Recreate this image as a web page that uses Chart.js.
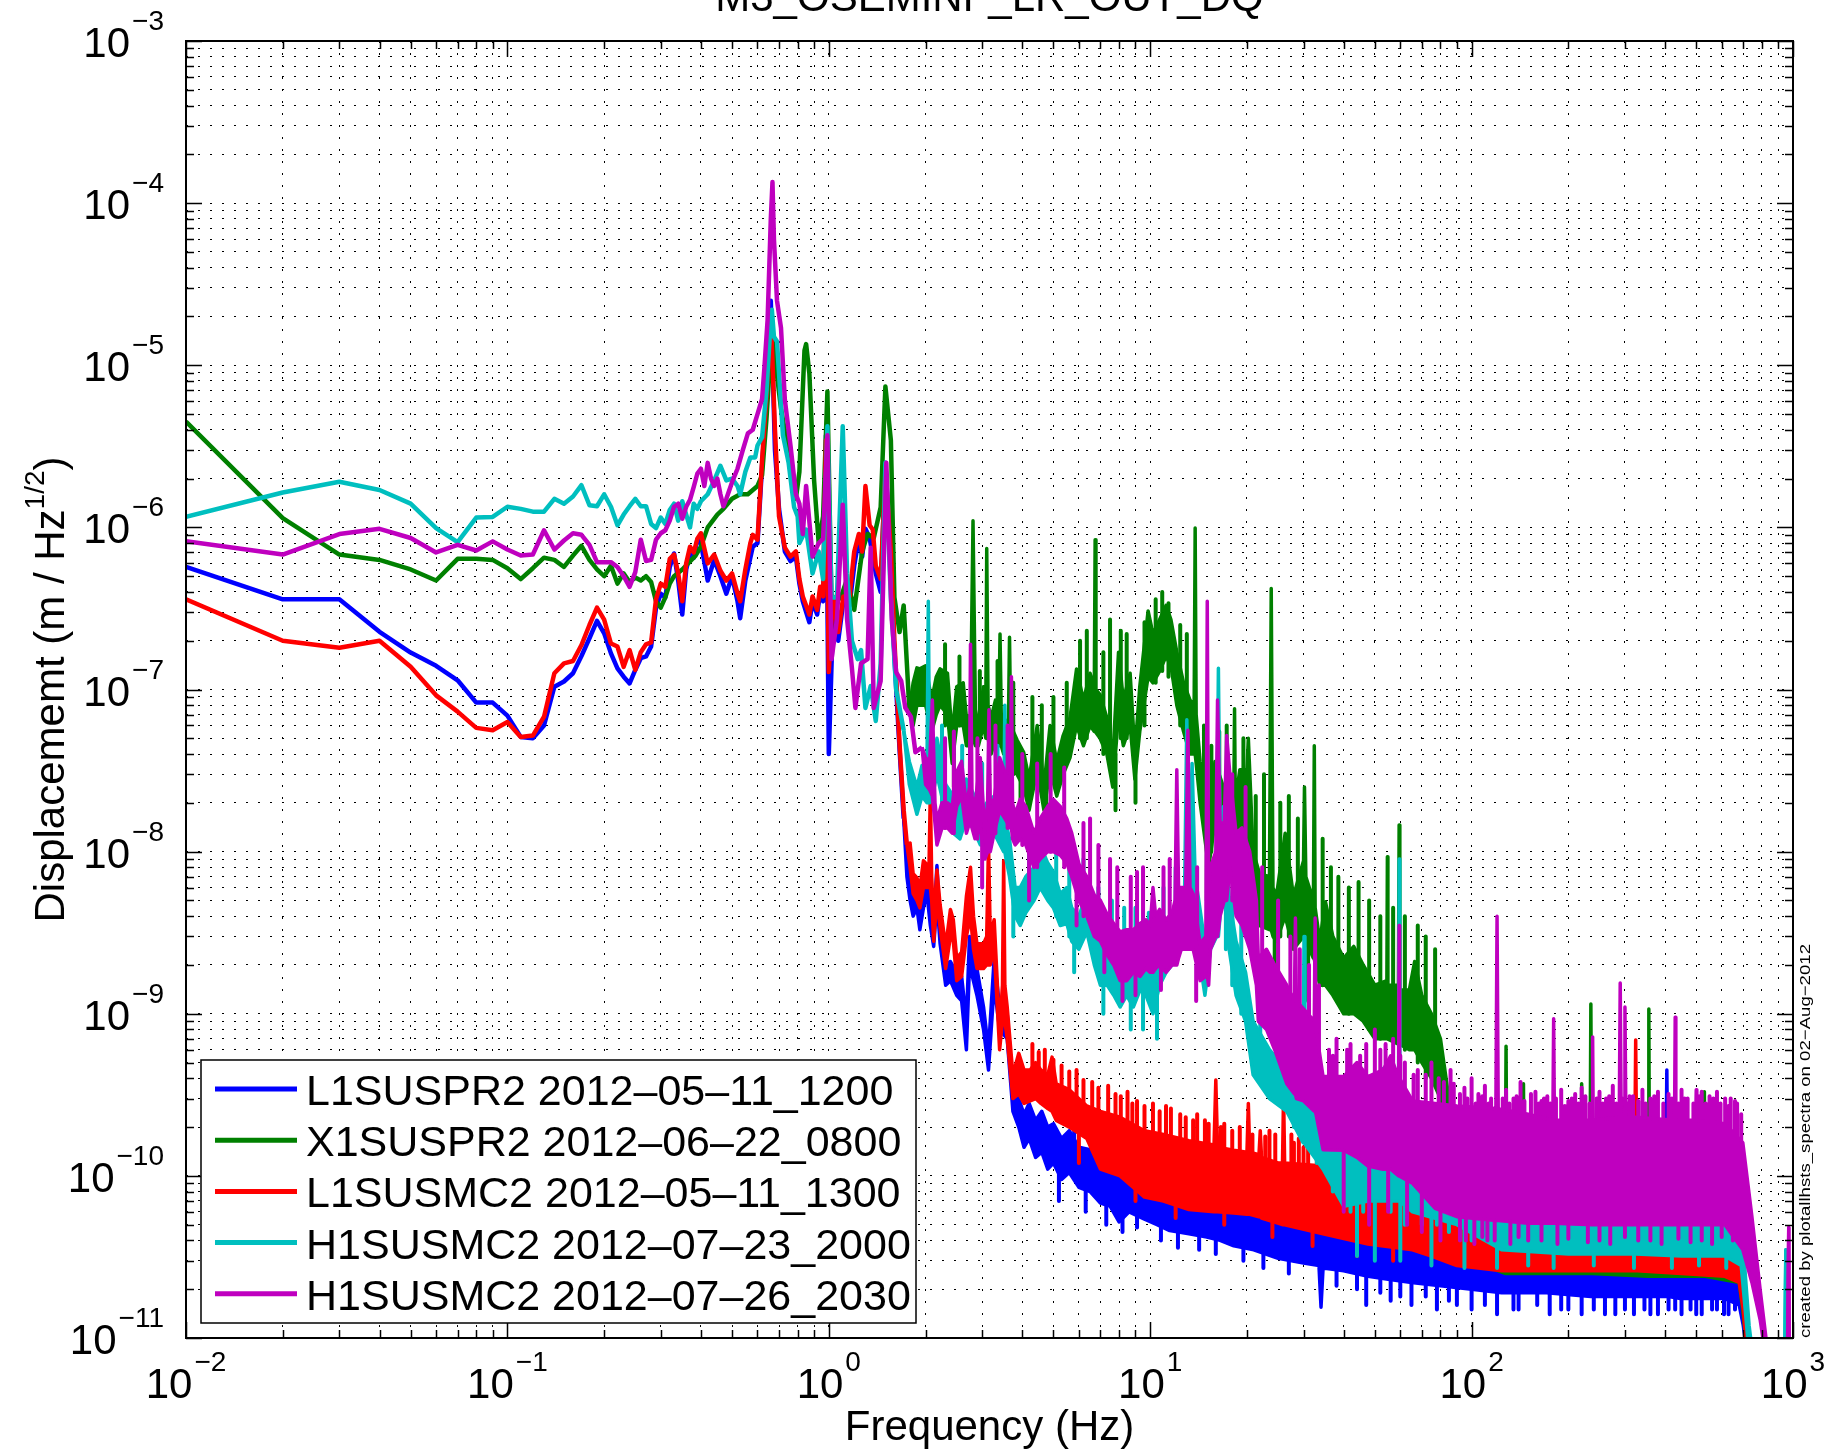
<!DOCTYPE html>
<html><head><meta charset="utf-8">
<script src="https://cdn.jsdelivr.net/npm/chart.js"></script>
<style>html,body{margin:0;padding:0;background:#fff;}canvas{display:block;}</style>
</head><body>
<canvas id="c" width="1844" height="1452" style="width:1844px;height:1452px"></canvas>
<script>
// ---------------- DATA ----------------
const chartTitle = 'M3_OSEMINF_LR_OUT_DQ';
const xAxisTitle = 'Frequency (Hz)';
const yAxisTitleMain = 'Displacememt (m / Hz';
const yAxisTitleSup = '1/2';
const footnote = 'created by plotallhsts_spectra on 02\u2212Aug\u22122012';

const xMajor = [0.01, 0.1, 1, 10, 100, 1000];
const xTickExp = ['\u22122', '\u22121', '0', '1', '2', '3'];
const yMajor = [1e-11, 1e-10, 1e-9, 1e-8, 1e-7, 1e-6, 1e-5, 1e-4, 1e-3];
const yTickExp = ['\u221211', '\u221210', '\u22129', '\u22128', '\u22127', '\u22126', '\u22125', '\u22124', '\u22123'];
const minorMult = [2, 3, 4, 5, 6, 7, 8, 9];

const seriesLabels = ['L1SUSPR2 2012\u201305\u201311_1200', 'X1SUSPR2 2012\u201306\u201322_0800', 'L1SUSMC2 2012\u201305\u201311_1300', 'H1SUSMC2 2012\u201307\u201323_2000', 'H1SUSMC2 2012\u201307\u201326_2030'];
const seriesColors = ['#0000ff', '#008000', '#ff0000', '#00bfbf', '#bf00bf'];

// ---- L1SUSPR2 : line [freq, value]; band [freq, upper, lower]; noise strokes [freq, from, to]
const blueLine = [[0.01,5.7e-7],[0.02,3.6e-7],[0.03,3.6e-7],[0.04,2.27e-7],[0.05,1.69e-7],[0.06,1.4e-7],[0.07,1.14e-7],[0.08,8.3e-8],[0.09,8.3e-8],[0.1,6.9e-8],[0.11,5.1e-8],[0.12,5.0e-8],[0.13,6.0e-8],[0.14,1.04e-7],[0.15,1.12e-7],[0.16,1.26e-7],[0.17,1.61e-7],[0.18,2.07e-7],[0.19,2.65e-7],[0.2,2.22e-7],[0.21,1.67e-7],[0.22,1.35e-7],[0.23,1.2e-7],[0.24,1.09e-7],[0.25,1.32e-7],[0.26,1.56e-7],[0.27,1.6e-7],[0.28,1.84e-7],[0.29,3.2e-7],[0.3,3.9e-7],[0.31,3.7e-7],[0.32,5.7e-7],[0.33,6.9e-7],[0.34,4.7e-7],[0.35,2.9e-7],[0.36,5.5e-7],[0.37,6.9e-7],[0.38,6.5e-7],[0.39,8.4e-7],[0.4,8.0e-7],[0.42,4.7e-7],[0.44,6.3e-7],[0.46,5.0e-7],[0.48,3.9e-7],[0.5,5.0e-7],[0.52,3.5e-7],[0.53,2.75e-7],[0.55,4.7e-7],[0.57,6.5e-7],[0.58,7.6e-7],[0.6,8.0e-7],[0.62,2.4e-6],[0.64,6e-6],[0.66,2.5e-5],[0.68,3e-6],[0.7,1.3e-6],[0.73,7.1e-7],[0.76,6.2e-7],[0.79,6.6e-7],[0.81,4.5e-7],[0.83,3.5e-7],[0.87,2.6e-7],[0.89,3.5e-7],[0.92,2.9e-7],[0.94,4e-7],[0.96,3.5e-7],[0.98,3.7e-6],[1.0,4e-8],[1.03,2.7e-7],[1.07,2e-7],[1.11,3.5e-7],[1.16,3.3e-7],[1.2,5.8e-7],[1.24,8.6e-7],[1.27,6.6e-7],[1.3,9.8e-7],[1.34,8.6e-7],[1.4,5.2e-7],[1.45,4e-7],[1.5,2.5e-6],[1.56,6.2e-7],[1.6,1.6e-7],[1.66,4.3e-8],[1.71,1.6e-8]];
const blueBand = [[1.71,1.6e-8,1.6e-8],[1.75,1.1e-8,7e-9],[1.79,7e-9,5e-9],[1.83,5.5e-9,4e-9],[1.88,6e-9,4.5e-9],[1.92,4.5e-9,3.3e-9],[1.97,6.5e-9,4.5e-9],[2.02,7e-9,5.5e-9],[2.07,5e-9,3.5e-9],[2.12,3.5e-9,2.6e-9],[2.17,8.2e-9,5e-9],[2.22,3.5e-9,2.7e-9],[2.31,2e-9,1.5e-9],[2.39,2.1e-9,1.6e-9],[2.5,1.8e-9,1.3e-9],[2.59,1.7e-9,1.2e-9],[2.68,9e-10,6e-10],[2.74,3e-9,2e-9],[2.89,1.9e-9,1.3e-9],[3.03,1.1e-9,8e-10],[3.14,6e-10,4.5e-10],[3.27,2.2e-9,1.5e-9],[3.4,1.1e-9,8e-10],[3.59,1e-9,7e-10],[3.74,3.5e-10,2.5e-10],[3.9,3.0e-10,2.0e-10],[4.05,2.4e-10,1.5e-10],[4.2,2.8e-10,1.7e-10],[4.4,2.2e-10,1.3e-10],[4.6,2.5e-10,1.4e-10],[4.8,2.0e-10,1.1e-10],[5.0,2.1e-10,1.2e-10],[5.3,1.7e-10,9.5e-11],[5.6,1.9e-10,1.05e-10],[6.0,1.5e-10,8.5e-11],[6.5,1.45e-10,8e-11],[7.0,1.25e-10,6.8e-11],[7.5,1.2e-10,6.5e-11],[8.0,1.1e-10,5.2e-11],[8.6,1.05e-10,6e-11],[9.6,9e-11,5.4e-11],[10.5,9.5e-11,5e-11],[11.5,8.5e-11,4.6e-11],[13.2,8.3e-11,4.4e-11],[15,7.8e-11,4.2e-11],[16.5,7.3e-11,4e-11],[18.2,7e-11,3.7e-11],[21,6.5e-11,3.5e-11],[25,6.0e-11,3.1e-11],[30,5.7e-11,2.9e-11],[33.5,5.4e-11,2.8e-11],[34,5.2e-11,1.55e-11],[34.5,5.3e-11,2.7e-11],[40,5.1e-11,2.6e-11],[47.6,4.8e-11,2.4e-11],[55,4.6e-11,2.3e-11],[65,4.3e-11,2.2e-11],[80,4.1e-11,2.1e-11],[100,3.8e-11,2.0e-11],[124,3.6e-11,1.9e-11],[171,3.5e-11,1.9e-11],[235,3.3e-11,1.8e-11],[324,3.2e-11,1.8e-11],[400,3.2e-11,1.8e-11],[405,4.5e-10,1.8e-11],[410,3.2e-11,1.8e-11],[446,3.1e-11,1.75e-11],[614,3.1e-11,1.75e-11],[680,2.8e-11,1.6e-11],[700,2e-11,1.2e-11],[720,1.2e-11,8e-12],[760,5e-12,4e-12]];
const blueNoise = [[5.2,7e-11,1.6e-10],[6.3,6e-11,1.4e-10],[7.3,5e-11,1.2e-10],[8.2,4.5e-11,1.1e-10],[9.1,4.8e-11,1e-10],[10.8,4e-11,9e-11],[12.2,3.6e-11,8.5e-11],[14.2,3.5e-11,8e-11],[16,3.3e-11,7.5e-11],[19.5,3e-11,7e-11],[22.5,2.7e-11,6.5e-11],[27,2.5e-11,6e-11],[38,2.1e-11,5e-11],[44,2e-11,5e-11],[52,1.9e-11,4.5e-11],[60,1.8e-11,4.5e-11],[72,1.8e-11,4.3e-11],[85,1.7e-11,4e-11],[110,1.6e-11,3.8e-11],[140,1.5e-11,3.6e-11],[160,1.6e-11,3.5e-11],[200,1.5e-11,3.4e-11],[260,1.4e-11,3.3e-11],[300,1.5e-11,3.2e-11],[360,1.4e-11,3.2e-11],[430,1.5e-11,3.1e-11],[500,1.4e-11,3.1e-11],[560,1.5e-11,3.1e-11],[630,1.4e-11,3e-11],[5.8,1e-10,2.4e-10],[6.8,9e-11,1.9e-10],[11,6e-11,1.3e-10],[17,5e-11,1.05e-10],[24,4e-11,8.5e-11],[31,3.5e-11,7.5e-11],[42,3e-11,6.5e-11],[58,3e-11,6e-11],[70,2.8e-11,5.8e-11],[95,2.5e-11,5.3e-11],[130,2.4e-11,5e-11],[170,2.4e-11,4.8e-11],[210,2.3e-11,4.6e-11],[280,2.3e-11,4.5e-11],[340,2.3e-11,4.5e-11],[460,2.2e-11,4.4e-11],[540,2.2e-11,4.3e-11],[600,2.2e-11,4.4e-11],[47,1.6e-11,3e-11],[56,1.7e-11,3e-11],[65,1.6e-11,3e-11],[78,1.5e-11,3e-11],[90,1.6e-11,3e-11],[100,1.5e-11,3e-11],[120,1.4e-11,2.8e-11],[135,1.5e-11,2.8e-11],[175,1.4e-11,2.8e-11],[190,1.5e-11,2.8e-11],[220,1.4e-11,2.8e-11],[240,1.5e-11,2.8e-11],[280,1.4e-11,2.8e-11],[320,1.4e-11,2.8e-11],[345,1.5e-11,2.8e-11],[380,1.4e-11,2.8e-11],[410,1.5e-11,2.8e-11],[450,1.4e-11,2.8e-11],[480,1.5e-11,2.8e-11],[520,1.4e-11,2.8e-11],[580,1.5e-11,2.8e-11],[610,1.4e-11,2.8e-11],[660,1.5e-11,2.8e-11],[48,3e-11,6e-11],[62,3e-11,5.5e-11],[78,2.8e-11,5.3e-11],[110,2.5e-11,5e-11],[150,2.4e-11,4.7e-11],[190,2.3e-11,4.8e-11],[250,2.3e-11,4.4e-11],[310,2.3e-11,4.6e-11],[390,2.3e-11,4.4e-11],[500,2.2e-11,4.5e-11],[570,2.2e-11,4.3e-11],[650,2.2e-11,4.2e-11]];

// ---- X1SUSPR2
const greenLine = [[0.01,4.5e-6],[0.02,1.14e-6],[0.03,6.8e-7],[0.04,6.3e-7],[0.05,5.5e-7],[0.06,4.7e-7],[0.07,6.4e-7],[0.08,6.4e-7],[0.09,6.3e-7],[0.1,5.6e-7],[0.11,4.8e-7],[0.12,5.6e-7],[0.13,6.5e-7],[0.14,6.3e-7],[0.15,5.7e-7],[0.16,6.7e-7],[0.17,7.7e-7],[0.18,6.3e-7],[0.19,5.5e-7],[0.2,5e-7],[0.21,5.8e-7],[0.22,4.5e-7],[0.23,5.2e-7],[0.24,4.6e-7],[0.25,4.9e-7],[0.26,4.7e-7],[0.27,5e-7],[0.28,4.6e-7],[0.29,3.5e-7],[0.3,3.2e-7],[0.31,3.7e-7],[0.32,4.5e-7],[0.33,5e-7],[0.35,5.5e-7],[0.385,6.7e-7],[0.4,7.6e-7],[0.42,1e-6],[0.45,1.2e-6],[0.47,1.3e-6],[0.5,1.5e-6],[0.53,1.6e-6],[0.56,1.6e-6],[0.6,1.8e-6],[0.62,2.1e-6],[0.64,4.7e-6],[0.665,1.6e-5],[0.71,5.4e-6],[0.76,2.5e-6],[0.79,1.5e-6],[0.81,2.2e-6],[0.84,1.23e-5],[0.85,1.35e-5],[0.87,8.9e-6],[0.9,1.95e-6],[0.93,8e-7],[0.96,1.17e-6],[0.99,6.9e-6],[1.02,3.3e-7],[1.09,3.7e-7],[1.14,4.8e-7],[1.2,3.1e-7],[1.27,7.1e-7],[1.32,9.1e-7],[1.38,8.6e-7],[1.45,1.33e-6],[1.5,7.4e-6],[1.56,3.45e-6],[1.6,3.7e-7],[1.66,2.26e-7],[1.71,3.3e-7],[1.78,7.7e-8]];
const greenBand = [[1.78,7.7e-8,7.7e-8],[1.83,1.1e-7,6e-8],[1.88,1.36e-7,8e-8],[1.92,1.34e-7,8e-8],[2.0,1.4e-7,8e-8],[2.09,8.6e-8,5.5e-8],[2.16,1.2e-7,7e-8],[2.22,1.34e-7,8e-8],[2.34,1.26e-7,7e-8],[2.42,5.2e-8,3.5e-8],[2.5,1.04e-7,6e-8],[2.62,1.1e-7,6e-8],[2.68,6.7e-8,4.5e-8],[2.76,7e-8,4.5e-8],[2.81,1.1e-6,5e-8],[2.86,7e-8,4.5e-8],[2.92,6.7e-8,4.5e-8],[3.03,1.04e-7,6e-8],[3.08,8e-8,5e-8],[3.1,7.4e-7,5e-8],[3.13,8e-8,5e-8],[3.2,6.7e-8,4e-8],[3.3,8.6e-8,5e-8],[3.38,7e-8,4.5e-8],[3.41,2.2e-7,4.5e-8],[3.44,7e-8,4.5e-8],[3.5,6.7e-8,4e-8],[3.62,6e-8,4e-8],[3.65,2.1e-7,4e-8],[3.68,6e-8,3.8e-8],[3.85,4.9e-8,3e-8],[4.04,4.1e-8,2.5e-8],[4.2,2.8e-8,1.8e-8],[4.45,6e-8,3.2e-8],[4.67,2.5e-8,1.8e-8],[4.88,6e-8,3.2e-8],[5.12,3.6e-8,2.2e-8],[5.36,5.2e-8,3e-8],[5.63,6.7e-8,3.8e-8],[5.9,1.34e-7,6e-8],[6.2,8.6e-8,4.5e-8],[6.5,1.26e-7,6e-8],[6.7,1e-7,5.5e-8],[6.74,8.4e-7,5.5e-8],[6.78,1e-7,5.5e-8],[6.98,9.3e-8,5e-8],[7.33,6.7e-8,4e-8],[7.65,3.8e-8,2.5e-8],[7.97,1.7e-7,7e-8],[8.25,8.6e-8,4.5e-8],[8.66,1.26e-7,6e-8],[8.96,4.1e-8,2.8e-8],[9.28,1.04e-7,5.5e-8],[9.85,3.05e-7,1.2e-7],[10.2,2.2e-7,1.1e-7],[10.7,2.7e-7,1.3e-7],[11.2,3.3e-7,1.6e-7],[11.6,2.7e-7,1.4e-7],[12.1,1.7e-7,8e-8],[12.7,1.1e-7,5.5e-8],[13.3,8.6e-8,4e-8],[13.7,8e-8,4e-8],[13.8,9.9e-7,4e-8],[13.9,7e-8,3.5e-8],[14.3,3.6e-8,2e-8],[15.2,1.37e-8,8e-9],[15.9,3.6e-8,1.5e-8],[16.9,2.5e-8,1.2e-8],[17.7,1.74e-8,9e-9],[18.2,2e-8,9e-9],[18.3,7.6e-8,9e-9],[18.4,2e-8,9e-9],[19.0,3.2e-8,1.2e-8],[20,3.2e-8,1.1e-8],[20.2,5e-8,1.1e-8],[20.9,1e-8,5e-9],[21.9,7.3e-9,3.5e-9],[23.5,7e-9,3.3e-9],[23.8,4.2e-7,3.3e-9],[24.1,6e-9,3e-9],[24.7,5.3e-9,2.8e-9],[26.3,1.3e-8,4e-9],[27.9,5.3e-9,2.5e-9],[30,8.8e-9,3e-9],[30.2,2.5e-8,3e-9],[30.5,7e-9,2.8e-9],[32.2,5e-9,2.2e-9],[32.4,4.5e-8,2.2e-9],[32.6,4.5e-9,2e-9],[33.7,2.8e-9,1.5e-9],[35.1,4.9e-9,1.5e-9],[37,3e-9,1.3e-9],[40,2.2e-9,1.0e-9],[43,2.6e-9,1.0e-9],[46,2e-9,9e-10],[50,1.5e-9,7e-10],[54.5,1.6e-9,7e-10],[54.7,9.3e-9,7e-10],[54.9,1.5e-9,7e-10],[59.2,1.5e-9,6.5e-10],[59.5,1.46e-8,6.5e-10],[59.8,1.4e-9,6.5e-10],[64,1.4e-9,6e-10],[66.5,2.1e-9,6e-10],[70,1.3e-9,5e-10],[75,1e-9,4e-10],[80,7e-10,3e-10],[85,3e-10,1e-10],[90,1.2e-10,4e-11],[100,5e-11,3e-11],[127,4e-11,2.5e-11],[128,6.3e-10,2.5e-11],[129,4e-11,2.5e-11],[144,4e-11,2.5e-11],[145,3.7e-10,2.5e-11],[146,4e-11,2.5e-11],[219,3.9e-11,2.5e-11],[220,3.7e-10,2.5e-11],[221,3.9e-11,2.5e-11],[233,3.9e-11,2.5e-11],[235,1.15e-9,2.5e-11],[237,3.9e-11,2.5e-11],[354,3.8e-11,2.4e-11],[356,1.07e-9,2.4e-11],[358,3.8e-11,2.4e-11],[527,3.8e-11,2.4e-11],[530,3.3e-10,2.4e-11],[533,3.8e-11,2.4e-11],[680,3.4e-11,2.2e-11],[700,2.3e-11,1.4e-11],[720,1.2e-11,8e-12],[760,5e-12,4e-12]];
const greenNoise = [[2.3,6e-8,1.9e-7],[2.55,6e-8,1.6e-7],[2.95,5e-8,1.3e-7],[3.35,5e-8,1.5e-7],[3.75,3e-8,1.1e-7],[4.3,3e-8,9e-8],[4.6,2.5e-8,8e-8],[5.0,3e-8,9e-8],[5.5,4e-8,1.1e-7],[6.05,5e-8,2e-7],[6.35,5e-8,2.3e-7],[7.15,4e-8,1.7e-7],[7.5,4e-8,2.7e-7],[8.1,5e-8,2.3e-7],[8.45,5e-8,2.2e-7],[9.6,6e-8,2.6e-7],[10.4,1.1e-7,3.6e-7],[10.9,1.3e-7,4e-7],[11.4,1.2e-7,3.4e-7],[12.4,6e-8,2.5e-7],[13,5e-8,2.2e-7],[14.7,1.5e-8,6e-8],[15.5,1e-8,4.5e-8],[16.4,1.2e-8,5.5e-8],[17.3,1e-8,6e-8],[19.5,8e-9,5e-8],[21.3,4e-9,2.2e-8],[22.6,4e-9,3e-8],[25.4,3e-9,2e-8],[27,3e-9,2.2e-8],[28.8,3e-9,1.6e-8],[34.4,1.5e-9,1.2e-8],[36.5,1.4e-9,8e-9],[38.5,1.2e-9,7e-9],[41.5,1e-9,6e-9],[44.5,1e-9,6.5e-9],[48,8e-10,5e-9],[52,7e-10,4e-9],[57,7e-10,4.5e-9],[62,6e-10,4e-9],[68,5e-10,3.5e-9],[72,4e-10,3e-9],[77,4e-10,2.5e-9],[2.45,2.5e-8,6e-8],[3.95,1.6e-8,4e-8],[4.75,1.4e-8,3e-8],[7.8,1.8e-8,4e-8],[9.0,2e-8,4e-8],[15.0,5e-9,1.5e-8],[20.6,2.5e-9,8e-9],[24.4,1.8e-9,5e-9],[31,1.2e-9,4e-9]];

// ---- L1SUSMC2
const redLine = [[0.01,3.6e-7],[0.02,2.0e-7],[0.03,1.81e-7],[0.04,2.0e-7],[0.05,1.38e-7],[0.06,9.2e-8],[0.07,7.3e-8],[0.08,5.8e-8],[0.09,5.6e-8],[0.1,6.3e-8],[0.11,5.1e-8],[0.12,5.2e-8],[0.13,6.8e-8],[0.14,1.26e-7],[0.15,1.45e-7],[0.16,1.5e-7],[0.17,1.88e-7],[0.18,2.5e-7],[0.19,3.2e-7],[0.2,2.7e-7],[0.21,1.92e-7],[0.22,1.84e-7],[0.23,1.38e-7],[0.24,1.75e-7],[0.25,1.32e-7],[0.26,1.7e-7],[0.27,1.9e-7],[0.28,1.95e-7],[0.29,3.6e-7],[0.3,4.5e-7],[0.31,4.3e-7],[0.32,6.4e-7],[0.33,6.8e-7],[0.34,5.2e-7],[0.35,3.5e-7],[0.36,6e-7],[0.37,7.6e-7],[0.38,7e-7],[0.39,8.5e-7],[0.4,9.2e-7],[0.42,6e-7],[0.44,6.8e-7],[0.46,5.4e-7],[0.48,4.7e-7],[0.5,5.2e-7],[0.52,3.9e-7],[0.53,3.5e-7],[0.55,5.5e-7],[0.57,8e-7],[0.58,9e-7],[0.6,8.4e-7],[0.62,2.6e-6],[0.64,6.5e-6],[0.66,2e-5],[0.68,4e-6],[0.7,1.17e-6],[0.73,7.5e-7],[0.76,6.6e-7],[0.79,7.1e-7],[0.81,4.8e-7],[0.83,3.75e-7],[0.87,2.9e-7],[0.89,3.75e-7],[0.92,3.1e-7],[0.94,4.3e-7],[0.96,3.75e-7],[0.98,3.45e-6],[1.0,1.28e-7],[1.03,3.75e-7],[1.07,2.26e-7],[1.11,3.75e-7],[1.16,3.75e-7],[1.2,7.1e-7],[1.24,9.1e-7],[1.27,7.1e-7],[1.3,1.8e-6],[1.34,1.03e-6],[1.37,9.7e-7],[1.4,5.8e-7],[1.45,4.8e-7],[1.5,2.2e-6],[1.56,7.1e-7],[1.6,2e-7],[1.66,4.6e-8],[1.71,1.8e-8],[1.75,1.1e-8]];
const redBand = [[1.75,1.1e-8,1.1e-8],[1.79,1.13e-8,8e-9],[1.83,7.3e-9,5.5e-9],[1.88,6.9e-9,5e-9],[1.92,6e-9,4.5e-9],[1.97,8.8e-9,6e-9],[2.02,8.3e-9,6e-9],[2.05,8e-9,6e-9],[2.07,2.4e-8,6e-9],[2.09,7e-9,5e-9],[2.12,3.8e-9,2.8e-9],[2.17,7.7e-9,5e-9],[2.22,4.7e-9,3.4e-9],[2.31,2.6e-9,1.9e-9],[2.39,4.4e-9,3e-9],[2.44,3.8e-9,2.8e-9],[2.5,2.2e-9,1.6e-9],[2.59,2.4e-9,1.7e-9],[2.68,5.3e-9,3e-9],[2.76,8e-9,4e-9],[2.82,4e-9,2.5e-9],[2.89,2.7e-9,1.9e-9],[3.03,2.7e-9,1.9e-9],[3.1,3e-9,2e-9],[3.14,1.13e-8,2e-9],[3.18,3e-9,2e-9],[3.27,3.8e-9,2.5e-9],[3.4,8e-10,6e-10],[3.47,1.5e-9,9e-10],[3.5,8.8e-9,1e-9],[3.53,1.5e-9,9e-10],[3.59,1.1e-9,7e-10],[3.74,4.2e-10,3e-10],[3.9,5.7e-10,3.2e-10],[4.05,4.5e-10,2.8e-10],[4.23,4.5e-10,2.9e-10],[4.4,5e-10,3e-10],[4.57,4.5e-10,2.8e-10],[4.8,4.2e-10,2.6e-10],[4.95,5.4e-10,2.5e-10],[5.1,3.7e-10,2.2e-10],[5.6,3.4e-10,2e-10],[6.35,2.7e-10,1.7e-10],[7.0,2.5e-10,1.1e-10],[8.06,2.3e-10,1e-10],[9.6,1.9e-10,7.4e-11],[11,1.8e-10,7e-11],[13.2,1.65e-10,6.2e-11],[15.8,1.55e-10,6e-11],[16,3.9e-10,6e-11],[16.2,1.5e-10,6e-11],[18.2,1.44e-10,5.9e-11],[20,1.4e-10,5.8e-11],[20.2,2.8e-10,5.8e-11],[20.4,1.4e-10,5.8e-11],[21.8,1.35e-10,5.6e-11],[22,1.9e-10,5.6e-11],[22.2,1.3e-10,5.5e-11],[25.1,1.2e-10,5.1e-11],[25.8,1.2e-10,5e-11],[26,3.2e-10,5e-11],[26.2,1.2e-10,5e-11],[34.5,1.15e-10,4.4e-11],[47.6,1.08e-10,3.8e-11],[65.5,9.4e-11,3.5e-11],[75,7e-11,3.2e-11],[90,5.6e-11,2.8e-11],[124,4e-11,2.6e-11],[200,3.8e-11,2.6e-11],[320,3.8e-11,2.6e-11],[324,6.9e-10,2.6e-11],[328,3.8e-11,2.6e-11],[450,3.7e-11,2.5e-11],[614,3.5e-11,2.4e-11],[680,3.2e-11,2.2e-11],[700,2.3e-11,1.5e-11],[720,1.2e-11,8e-12],[760,5e-12,4e-12]];
const redNoise = [[4.3,3e-10,6.5e-10],[4.7,3e-10,6e-10],[5.3,2.5e-10,4.8e-10],[5.9,2.2e-10,4.5e-10],[6.6,2e-10,3.8e-10],[7.4,1.5e-10,3.6e-10],[7.8,1.5e-10,3.2e-10],[8.5,1.3e-10,3.3e-10],[9.1,1.2e-10,2.9e-10],[10.2,1.1e-10,2.8e-10],[11.6,1e-10,2.6e-10],[12.4,1e-10,2.4e-10],[14,9e-11,2.4e-10],[14.8,9e-11,2.2e-10],[17,8e-11,2.1e-10],[19,8e-11,2e-10],[23.5,7e-11,1.9e-10],[27.5,6e-11,1.8e-10],[29,6e-11,1.7e-10],[31,6e-11,1.9e-10],[36,5e-11,1.6e-10],[39,5e-11,1.7e-10],[43,5e-11,1.9e-10],[45,5e-11,1.5e-10],[52,4.5e-11,1.5e-10],[56,4.5e-11,1.6e-10],[62,4e-11,1.4e-10],[70,3.5e-11,1.3e-10],[80,3.5e-11,1e-10],[98,3e-11,7e-11],[110,3e-11,6e-11],[150,2.8e-11,5.5e-11],[180,2.8e-11,5.5e-11],[250,2.8e-11,5.2e-11],[290,2.8e-11,5.6e-11],[380,2.8e-11,5.2e-11],[420,2.8e-11,5e-11],[520,2.7e-11,5e-11],[580,2.7e-11,5.3e-11],[4.5,3e-10,5.8e-10],[5.0,2.8e-10,5.2e-10],[5.6,2.4e-10,4.4e-10],[6.2,2e-10,3.9e-10],[6.9,1.8e-10,3.5e-10],[8.1,1.4e-10,3.1e-10],[8.8,1.3e-10,2.8e-10],[9.6,1.2e-10,2.7e-10],[10.7,1.1e-10,2.5e-10],[11.2,1.1e-10,2.7e-10],[12.9,1e-10,2.3e-10],[13.6,1e-10,2.2e-10],[15.2,9e-11,2.1e-10],[16.6,9e-11,2e-10],[18,8e-11,1.9e-10],[20.8,8e-11,1.8e-10],[22.8,7e-11,1.75e-10],[24.5,7e-11,1.8e-10],[28,6e-11,1.6e-10],[30,6e-11,1.5e-10],[33,6e-11,1.7e-10],[35,5e-11,1.5e-10],[38,5e-11,1.45e-10],[41,5e-11,1.6e-10],[48,4.5e-11,1.4e-10],[50,4.5e-11,1.5e-10],[54,4.5e-11,1.35e-10],[59,4e-11,1.45e-10],[65,4e-11,1.3e-10],[68,4e-11,1.2e-10],[75,3.5e-11,1.1e-10],[6,1.2e-10,2e-10],[9,7e-11,1.2e-10],[12,5.5e-11,9e-11],[17,5e-11,8e-11],[24,4.2e-11,7e-11],[32,3.7e-11,6e-11],[44,3.2e-11,5e-11],[57,3e-11,5e-11]];

// ---- H1SUSMC2 07-23
const cyanLine = [[0.01,1.16e-6],[0.02,1.64e-6],[0.03,1.91e-6],[0.04,1.7e-6],[0.05,1.4e-6],[0.06,9.9e-7],[0.07,8.1e-7],[0.08,1.15e-6],[0.09,1.16e-6],[0.1,1.34e-6],[0.11,1.3e-6],[0.12,1.25e-6],[0.13,1.25e-6],[0.14,1.5e-6],[0.15,1.4e-6],[0.16,1.55e-6],[0.17,1.82e-6],[0.18,1.37e-6],[0.19,1.35e-6],[0.2,1.6e-6],[0.21,1.34e-6],[0.22,1.03e-6],[0.23,1.2e-6],[0.24,1.35e-6],[0.25,1.5e-6],[0.26,1.35e-6],[0.27,1.35e-6],[0.28,1.05e-6],[0.29,9.9e-7],[0.3,1.15e-6],[0.31,1.05e-6],[0.32,1.28e-6],[0.33,1.4e-6],[0.34,1.1e-6],[0.35,1.45e-6],[0.36,1.2e-6],[0.37,1e-6],[0.38,1.4e-6],[0.39,1.3e-6],[0.4,1.45e-6],[0.42,1.6e-6],[0.44,1.95e-6],[0.46,2.4e-6],[0.48,1.95e-6],[0.5,2e-6],[0.52,1.8e-6],[0.53,1.6e-6],[0.55,2.2e-6],[0.57,2.7e-6],[0.59,2.7e-6],[0.6,3.2e-6],[0.62,3.6e-6],[0.64,7e-6],[0.655,1.5e-5],[0.665,2.2e-5],[0.675,1.5e-5],[0.69,1.4e-5],[0.72,3.7e-6],[0.75,2.5e-6],[0.78,1.33e-6],[0.8,1.17e-6],[0.81,8e-7],[0.85,9.7e-7],[0.89,5.2e-7],[0.93,7.1e-7],[0.96,4.8e-7],[0.99,4.2e-6],[1.02,3.7e-7],[1.06,3.7e-7],[1.105,4.2e-6],[1.14,5.2e-7],[1.18,2e-7],[1.23,1.54e-7],[1.26,1.75e-7],[1.3,7.7e-8],[1.35,1.05e-7],[1.4,6.4e-8],[1.45,1.45e-7],[1.5,2.5e-6],[1.56,3.7e-7],[1.62,1e-7],[1.71,5.6e-8]];
const cyanBand = [[1.71,5.6e-8,5.6e-8],[1.78,3.6e-8,2.6e-8],[1.88,2.5e-8,1.7e-8],[1.95,3.4e-8,2.2e-8],[2.02,3e-8,2e-8],[2.04,3.5e-7,2e-8],[2.06,3e-8,2e-8],[2.1,3.4e-8,2.2e-8],[2.17,5e-8,3e-8],[2.31,2.6e-8,1.7e-8],[2.44,2.2e-8,1.3e-8],[2.56,1.9e-8,1.2e-8],[2.68,2.8e-8,1.6e-8],[2.81,2.3e-8,1.4e-8],[2.96,1.7e-8,1.1e-8],[3.1,2e-8,1.2e-8],[3.27,2.2e-8,1.3e-8],[3.5,1.6e-8,1e-8],[3.53,8e-8,1e-8],[3.56,1.5e-8,9e-9],[3.65,1.2e-8,7e-9],[3.8,6e-9,4e-9],[3.94,6e-9,3.5e-9],[4.1,7e-9,4.2e-9],[4.35,8e-9,5e-9],[4.55,1.1e-8,6e-9],[4.8,8.5e-9,5e-9],[5.0,7.5e-9,4.5e-9],[5.25,5.5e-9,3.5e-9],[5.5,6e-9,3.6e-9],[5.7,4.5e-9,2.8e-9],[6.0,4e-9,2.5e-9],[6.35,5.5e-9,3.2e-9],[6.7,3.5e-9,2e-9],[7.0,3.2e-9,1.5e-9],[7.35,3e-9,1.5e-9],[7.7,2.4e-9,1.3e-9],[8.06,2.2e-9,1.1e-9],[8.45,2.5e-9,1.3e-9],[8.86,2e-9,1.1e-9],[9.3,2.7e-9,1.4e-9],[9.7,2.6e-9,1.3e-9],[10.2,2.2e-9,1.0e-9],[10.7,3e-9,1.5e-9],[11.2,3.5e-9,1.8e-9],[11.7,4e-9,2e-9],[12.3,5.3e-9,2.5e-9],[12.8,6e-9,3e-9],[13,6.5e-8,3e-9],[13.2,8e-9,3e-9],[13.5,3.5e-8,5e-9],[13.8,7e-9,3e-9],[14.1,5.3e-9,2.5e-9],[14.8,2.7e-9,1.3e-9],[15.4,5.8e-9,2.5e-9],[16.1,8e-9,3e-9],[16.3,1.35e-7,3e-9],[16.5,1.2e-8,4e-9],[16.9,1.9e-8,7e-9],[17.6,5.3e-9,2.5e-9],[18.5,2.8e-9,1.3e-9],[19.8,1.8e-9,9e-10],[20.9,9e-10,4.2e-10],[23.5,6e-10,3e-10],[26.6,4.5e-10,2.5e-10],[29.9,3.6e-10,1.6e-10],[30.1,3e-9,1.6e-10],[30.3,3.5e-10,1.6e-10],[34.5,2.3e-10,1.1e-10],[40,1.44e-10,6.5e-11],[47.6,1.44e-10,7e-11],[52.5,1.4e-10,7e-11],[53,4.6e-10,7e-11],[53.5,1.4e-10,7e-11],[59.2,1.3e-10,7e-11],[59.5,9e-9,7e-11],[59.8,1.3e-10,7e-11],[65.5,1.2e-10,6e-11],[90,1e-10,5e-11],[124,8.5e-11,3.5e-11],[200,8.2e-11,3.3e-11],[324,8e-11,3.3e-11],[450,8e-11,3.2e-11],[614,8e-11,3.2e-11],[690,6e-11,2.8e-11],[710,2.5e-11,1.5e-11],[730,1.2e-11,8e-12],[770,5e-12,4e-12],[940,5e-12,4e-12],[950,3.5e-11,3.5e-11],[952,5e-12,5e-12]];
const cyanNoise = [[2.25,2e-8,6e-8],[2.6,1.5e-8,4.5e-8],[3.0,1.2e-8,3.5e-8],[3.35,1.4e-8,4.5e-8],[4.2,5e-9,1.3e-8],[4.65,6e-9,1.6e-8],[5.1,4e-9,1.2e-8],[5.6,3e-9,1e-8],[6.2,3e-9,9e-9],[6.9,2e-9,6e-9],[7.6,1.5e-9,5e-9],[8.3,1.3e-9,4.5e-9],[9.0,1.3e-9,4.5e-9],[9.9,1.3e-9,4.2e-9],[11.0,1.8e-9,6e-9],[12.0,2.4e-9,8e-9],[15.1,1.5e-9,6e-9],[17.2,2.5e-9,1.2e-8],[18.0,1.5e-9,5e-9],[19.2,1e-9,3.5e-9],[22,4e-10,1.5e-9],[25,3e-10,1.1e-9],[28,2e-10,8e-10],[33,1.2e-10,5e-10],[37,8e-11,3.5e-10],[3.75,3e-9,5e-9],[5.8,1.8e-9,3e-9],[7.15,1e-9,1.8e-9],[8.7,8e-10,1.4e-9],[9.5,8e-10,1.4e-9],[10.5,7e-10,1.3e-9],[42,6e-11,2e-10],[46,6e-11,2.5e-10],[56,6e-11,2.2e-10],[62,5e-11,1.8e-10],[70,5e-11,1.6e-10],[78,5e-11,1.9e-10],[85,4.5e-11,1.5e-10],[100,4e-11,1.3e-10],[112,4e-11,1.4e-10],[135,4e-11,1.2e-10],[155,4e-11,1.3e-10],[190,4e-11,1.2e-10],[215,4e-11,1.15e-10],[255,4e-11,1.2e-10],[285,4e-11,1.1e-10],[350,4e-11,1.2e-10],[400,4e-11,1.15e-10],[470,4e-11,1.2e-10],[530,4e-11,1.1e-10],[600,4e-11,1.2e-10],[44,3.2e-11,7e-11],[50,3e-11,7e-11],[60,3e-11,7e-11],[75,2.8e-11,6e-11],[95,2.7e-11,6e-11],[120,2.7e-11,6e-11],[150,2.8e-11,6e-11],[180,2.7e-11,6e-11],[240,2.8e-11,6e-11],[320,2.7e-11,6e-11],[420,2.7e-11,6e-11],[510,2.8e-11,6e-11],[620,2.7e-11,6e-11],[105,5e-11,1.1e-10],[128,5e-11,1.15e-10],[145,5e-11,1.05e-10],[165,5e-11,1.1e-10],[200,5e-11,1.15e-10],[230,5e-11,1.05e-10],[270,5e-11,1.1e-10],[300,5e-11,1.15e-10],[330,5e-11,1.05e-10],[375,5e-11,1.1e-10],[440,5e-11,1.1e-10],[490,5e-11,1.15e-10],[560,5e-11,1.05e-10],[640,5e-11,1.1e-10]];

// ---- H1SUSMC2 07-26
const magLine = [[0.01,8.2e-7],[0.02,6.8e-7],[0.03,9.1e-7],[0.04,9.8e-7],[0.05,8.6e-7],[0.06,7e-7],[0.07,7.8e-7],[0.08,7.2e-7],[0.09,8.2e-7],[0.1,7.3e-7],[0.11,6.7e-7],[0.12,6.8e-7],[0.13,9.6e-7],[0.14,7.3e-7],[0.15,8.3e-7],[0.16,9.2e-7],[0.17,9e-7],[0.18,7.8e-7],[0.19,6.1e-7],[0.2,6.1e-7],[0.21,6.1e-7],[0.22,5.7e-7],[0.23,5e-7],[0.24,4.3e-7],[0.25,5.3e-7],[0.26,8.4e-7],[0.27,6.2e-7],[0.28,6.3e-7],[0.29,8.4e-7],[0.3,9.2e-7],[0.31,9.6e-7],[0.32,1.1e-6],[0.33,1.34e-6],[0.34,1.4e-6],[0.35,1.13e-6],[0.36,1.34e-6],[0.37,1.48e-6],[0.38,1.78e-6],[0.39,2.15e-6],[0.4,2.3e-6],[0.41,1.8e-6],[0.42,2.5e-6],[0.43,2.0e-6],[0.44,1.8e-6],[0.45,2.0e-6],[0.46,1.6e-6],[0.47,1.35e-6],[0.48,1.5e-6],[0.5,1.9e-6],[0.52,2.3e-6],[0.54,3e-6],[0.56,3.8e-6],[0.58,4e-6],[0.6,5e-6],[0.62,6.2e-6],[0.63,9.5e-6],[0.645,1.9e-5],[0.66,8e-5],[0.668,1.35e-4],[0.675,6e-5],[0.69,2.5e-5],[0.71,1.7e-5],[0.73,6.1e-6],[0.76,3.2e-6],[0.79,1.6e-6],[0.81,1.4e-6],[0.83,9.1e-7],[0.85,1.8e-6],[0.89,6.6e-7],[0.93,8e-7],[0.96,8.5e-7],[0.99,3.7e-6],[1.02,1.54e-7],[1.06,2.7e-7],[1.105,1.38e-6],[1.14,2.7e-7],[1.18,1.36e-7],[1.21,7.7e-8],[1.26,1.45e-7],[1.32,1.54e-7],[1.35,7.5e-7],[1.38,7.7e-8],[1.45,1.13e-7],[1.51,2.5e-6],[1.57,2.7e-7],[1.62,1.28e-7],[1.68,1.13e-7],[1.73,7.7e-8],[1.8,6.8e-8],[1.86,4.1e-8],[1.95,4.4e-8]];
const magBand = [[1.95,4.4e-8,4.4e-8],[2.0,3.8e-8,2.6e-8],[2.06,3.6e-8,2.4e-8],[2.1,8.6e-8,2.2e-8],[2.14,2e-8,1.5e-8],[2.17,1.55e-8,1.1e-8],[2.25,2e-8,1.4e-8],[2.34,2e-8,1.4e-8],[2.42,1.9e-8,1.3e-8],[2.5,3.1e-8,1.9e-8],[2.59,3.6e-8,2.2e-8],[2.68,1.9e-8,1.3e-8],[2.74,2.5e-8,1.5e-8],[2.76,1.9e-7,1.5e-8],[2.79,2.2e-8,1.4e-8],[2.85,1.9e-8,1.2e-8],[2.96,3.8e-8,1.4e-8],[3.06,1.3e-8,9e-9],[3.12,2e-8,1e-8],[3.15,7.5e-8,1e-8],[3.18,2e-8,1e-8],[3.27,2.1e-8,1.3e-8],[3.4,3.8e-8,1.8e-8],[3.53,3.1e-8,1.6e-8],[3.67,2.5e-8,1.4e-8],[3.7,1.2e-7,1.4e-8],[3.73,2e-8,1.2e-8],[3.8,1.7e-8,1.1e-8],[3.94,2.1e-8,1.2e-8],[4.1,1.9e-8,1.1e-8],[4.35,1.3e-8,8e-9],[4.55,1.6e-8,9e-9],[4.8,1.9e-8,1e-8],[5.0,2.1e-8,1e-8],[5.25,1.9e-8,9.5e-9],[5.5,1.6e-8,8.5e-9],[5.7,1.3e-8,7e-9],[6.0,8.4e-9,5e-9],[6.35,7e-9,4e-9],[6.7,5.4e-9,3e-9],[7.0,5e-9,2.8e-9],[7.35,4.1e-9,2.3e-9],[7.7,3.6e-9,2e-9],[8.06,3.2e-9,1.6e-9],[8.45,3.3e-9,1.6e-9],[8.86,3.3e-9,1.8e-9],[9.3,3.6e-9,1.7e-9],[9.7,3.8e-9,1.9e-9],[10.0,3.5e-9,1.8e-9],[10.2,6e-9,1.8e-9],[10.4,4e-9,1.9e-9],[10.7,4.4e-9,2e-9],[11.2,3.8e-9,1.8e-9],[11.7,4.2e-9,2e-9],[11.95,5e-9,2e-9],[12.1,3.2e-8,2e-9],[12.25,6e-9,2.2e-9],[12.5,6e-9,2.5e-9],[12.9,6e-9,2.5e-9],[13.1,5.6e-8,2.5e-9],[13.3,6e-9,2.5e-9],[13.6,5.5e-9,2.5e-9],[14.3,2.7e-9,1.6e-9],[14.9,3e-9,1.7e-9],[15.05,3.5e-7,1.7e-9],[15.2,5e-9,1.5e-9],[15.4,8e-9,2.5e-9],[16.0,1e-8,3e-9],[16.2,8.6e-8,3e-9],[16.5,1.5e-8,4e-9],[17.0,1.5e-8,5e-9],[17.3,5.2e-8,5e-9],[17.7,3e-8,8e-9],[18.5,1.3e-8,4e-9],[19.3,1.4e-8,3.5e-9],[20.4,1e-8,2.5e-9],[21.4,5e-9,1.5e-9],[21.7,2.2e-9,9e-10],[23,2.5e-9,8e-10],[24.4,2e-9,6e-10],[26.6,1.5e-9,3.7e-10],[28.1,1.2e-9,3.2e-10],[28.3,3.9e-9,3.2e-10],[28.5,1.2e-9,3e-10],[30,1.07e-9,2.9e-10],[32.4,9e-10,2.5e-10],[32.6,3.9e-9,2.5e-10],[32.8,8e-10,2.4e-10],[34.5,4.1e-10,1.45e-10],[40,4.1e-10,1.44e-10],[44,5e-10,1.3e-10],[47.6,4.1e-10,1.15e-10],[53,4.5e-10,1.1e-10],[56,5.5e-10,1.1e-10],[59.3,4e-10,1e-10],[59.5,3.5e-9,1e-10],[59.7,4e-10,1e-10],[65.5,2.9e-10,9e-11],[77,2.8e-10,6.3e-11],[90,2.7e-10,5.6e-11],[119,2.6e-10,5.3e-11],[120,4e-9,5.3e-11],[121,2.6e-10,5.3e-11],[150,2.4e-10,5.1e-11],[179,2.2e-10,5.1e-11],[180,9.3e-10,5.1e-11],[181,2.2e-10,5.1e-11],[237,2.2e-10,5e-11],[238,7.2e-10,5e-11],[239,2.2e-10,5e-11],[288,2.3e-10,5e-11],[290,1.55e-9,5e-11],[292,2.3e-10,5e-11],[299,2.3e-10,5e-11],[300,1.1e-9,5e-11],[302,2.3e-10,5e-11],[324,2.3e-10,5e-11],[428,2.2e-10,5e-11],[430,9.5e-10,5e-11],[432,2.2e-10,5e-11],[498,2.2e-10,5e-11],[500,3.4e-10,5e-11],[502,2.2e-10,5e-11],[614,2.1e-10,5e-11],[698,1.6e-10,3.5e-11],[745,5.6e-11,2.2e-11],[790,2e-11,1.3e-11],[850,6e-12,5e-12],[960,6e-12,5e-12],[970,4.8e-11,4.8e-11],[974,6e-12,6e-12]];
const magNoise = [[2.3,1.4e-8,5e-8],[2.45,1.3e-8,5.5e-8],[2.9,1.2e-8,5e-8],[3.3,1.3e-8,6e-8],[3.6,1.4e-8,6e-8],[4.0,1.1e-8,4e-8],[4.45,8e-9,3.5e-8],[4.9,1e-8,4e-8],[5.4,8e-9,3.3e-8],[6.2,4e-9,1.5e-8],[6.5,4e-9,1.6e-8],[6.9,3e-9,1.1e-8],[7.5,2.5e-9,9e-9],[7.9,2e-9,8e-9],[8.7,1.8e-9,7e-9],[9.1,2e-9,7.5e-9],[9.5,2e-9,8e-9],[11.0,2e-9,8e-9],[11.5,2e-9,9e-9],[14.0,2e-9,8e-9],[18.0,5e-9,3e-8],[19.8,3e-9,2.5e-8],[22.3,1e-9,8e-9],[25,6e-10,5e-9],[27.3,4e-10,3e-9],[29.2,3.5e-10,2.5e-9],[31.2,3e-10,2e-9],[33.5,2e-10,1.5e-9],[3.0,6e-9,1.2e-8],[4.2,5e-9,1e-8],[5.9,3.5e-9,6e-9],[7.2,1.8e-9,3e-9],[8.2,1.2e-9,2e-9],[9.0,1.3e-9,2e-9],[10.8,1.4e-9,2.2e-9],[13.9,1.2e-9,2e-9],[36,1.5e-10,6e-10],[38,1.5e-10,7e-10],[42,1.5e-10,6.5e-10],[45,1.5e-10,5.5e-10],[50,1.5e-10,8e-10],[52,1.2e-10,6e-10],[57,1.2e-10,7e-10],[62,1.2e-10,5e-10],[68,1e-10,4.5e-10],[72,1e-10,4.2e-10],[75,1e-10,5e-10],[82,1e-10,3.8e-10],[86,1e-10,4.5e-10],[95,1e-10,3.5e-10],[100,1e-10,4e-10],[105,1e-10,3.2e-10],[110,1e-10,3.6e-10],[115,1e-10,3e-10],[128,1e-10,3.4e-10],[135,1e-10,3e-10],[142,1e-10,3.8e-10],[158,1e-10,3.3e-10],[165,1e-10,2.9e-10],[172,1e-10,3.1e-10],[190,1e-10,3.4e-10],[200,1e-10,2.9e-10],[210,1e-10,3.2e-10],[220,1e-10,3.5e-10],[250,1e-10,3.3e-10],[262,1e-10,3e-10],[275,1e-10,3.6e-10],[310,1e-10,3.1e-10],[340,1e-10,3.4e-10],[360,1e-10,3e-10],[380,1e-10,3.3e-10],[410,1e-10,3.2e-10],[450,1e-10,3.4e-10],[470,1e-10,3e-10],[520,1e-10,3.3e-10],[550,1e-10,3.1e-10],[580,1e-10,3.3e-10],[640,1e-10,3e-10],[670,1e-10,2.8e-10],[40,6e-11,2e-10],[48,5e-11,2e-10],[55,6e-11,2e-10],[63,5e-11,2e-10],[70,4.5e-11,1.5e-10],[80,4e-11,1.5e-10],[92,4e-11,1.5e-10],[102,3.8e-11,1.5e-10],[112,4e-11,1.5e-10],[132,3.8e-11,1.5e-10],[150,4e-11,1.5e-10],[185,3.8e-11,1.5e-10],[230,3.9e-11,1.5e-10],[270,3.8e-11,1.5e-10],[330,4e-11,1.5e-10],[390,3.8e-11,1.5e-10],[480,3.9e-11,1.5e-10],[560,3.8e-11,1.5e-10],[650,4e-11,1.5e-10],[37,1.5e-10,5.5e-10],[41,1.5e-10,6e-10],[47,1.5e-10,6.5e-10],[54,1.2e-10,6.5e-10],[60,1.2e-10,5.5e-10],[66,1.1e-10,4.2e-10],[79,1e-10,4e-10],[88,1e-10,3.7e-10],[92,1e-10,3.2e-10],[97,1e-10,3e-10],[103,1e-10,2.8e-10],[108,1e-10,3.1e-10],[113,1e-10,2.8e-10],[125,1e-10,3e-10],[131,1e-10,2.8e-10],[138,1e-10,3.1e-10],[146,1e-10,2.9e-10],[153,1e-10,3.2e-10],[162,1e-10,2.8e-10],[168,1e-10,3e-10],[176,1e-10,2.8e-10],[183,1e-10,3e-10],[195,1e-10,2.7e-10],[205,1e-10,3e-10],[215,1e-10,2.8e-10],[226,1e-10,3.1e-10],[233,1e-10,2.8e-10],[245,1e-10,3e-10],[256,1e-10,2.8e-10],[268,1e-10,3.1e-10],[282,1e-10,2.8e-10],[295,1e-10,3e-10],[305,1e-10,2.8e-10],[318,1e-10,3.1e-10],[330,1e-10,2.9e-10],[348,1e-10,2.8e-10],[370,1e-10,3.1e-10],[395,1e-10,2.8e-10],[420,1e-10,3e-10],[440,1e-10,2.8e-10],[460,1e-10,3e-10],[490,1e-10,2.8e-10],[510,1e-10,3.1e-10],[535,1e-10,2.8e-10],[565,1e-10,3e-10],[595,1e-10,2.8e-10],[615,1e-10,3e-10],[630,1e-10,2.7e-10],[660,1e-10,2.9e-10],[690,1e-10,2.4e-10],[96,4e-11,1e-10],[108,4.2e-11,1e-10],[118,4e-11,1e-10],[140,4.2e-11,1e-10],[165,4e-11,1e-10],[200,4.1e-11,1e-10],[250,4e-11,1e-10],[300,4.2e-11,1e-10],[360,4e-11,1e-10],[440,4.1e-11,1e-10],[520,4e-11,1e-10],[600,4.2e-11,1e-10]];

// ---------------- BUILD ----------------
const lines = [blueLine, greenLine, redLine, cyanLine, magLine];
const bands = [blueBand, greenBand, redBand, cyanBand, magBand];
const noises = [blueNoise, greenNoise, redNoise, cyanNoise, magNoise];
const xGrid = [];
xMajor.forEach((d, i) => { xGrid.push(d); if (i < xMajor.length - 1) minorMult.forEach(m => xGrid.push(d * m)); });
const yGrid = [];
yMajor.forEach((d, i) => { yGrid.push(d); if (i < yMajor.length - 1) minorMult.forEach(m => yGrid.push(d * m)); });

const FONT = '"Liberation Sans", Arial, Helvetica, sans-serif';
const datasets = [];
seriesLabels.forEach((lab, i) => {
  const base = { label: lab, borderColor: seriesColors[i], backgroundColor: seriesColors[i], borderWidth: 4.5,
    pointRadius: 0, tension: 0, borderJoinStyle: 'round', order: 5 - i, clip: 0 };
  datasets.push(Object.assign({}, base, { data: lines[i].map(p => ({ x: p[0], y: p[1] })), fill: false }));
  datasets.push(Object.assign({}, base, { data: bands[i].map(p => ({ x: p[0], y: p[1] })), fill: false, borderWidth: 3.5 }));
  datasets.push(Object.assign({}, base, { data: bands[i].map(p => ({ x: p[0], y: p[2] })), fill: '-1', borderWidth: 3.5 }));
  const strokes = [];
  noises[i].forEach(p => { strokes.push({ x: p[0], y: p[1] }, { x: p[0], y: p[2] }, { x: p[0], y: null }); });
  datasets.push(Object.assign({}, base, { data: strokes, fill: false, borderWidth: 4, spanGaps: false, borderCapStyle: 'round' }));
});

function isMajor(v, arr) { return arr.some(m => Math.abs(v / m - 1) < 1e-9); }

const decor = {
  id: 'decor',
  afterDraw(chart) {
    const { ctx, chartArea: a } = chart;
    const xs = chart.scales.x, ys = chart.scales.y;
    ctx.save();
    ctx.strokeStyle = '#000'; ctx.lineWidth = 1.5; ctx.setLineDash([]);
    ctx.beginPath();
    xGrid.forEach(v => {
      const px = Math.round(xs.getPixelForValue(v)) + 0.5, L = isMajor(v, xMajor) ? 16 : 8;
      ctx.moveTo(px, a.bottom); ctx.lineTo(px, a.bottom - L);
      ctx.moveTo(px, a.top); ctx.lineTo(px, a.top + L);
    });
    yGrid.forEach(v => {
      const py = Math.round(ys.getPixelForValue(v)) + 0.5, L = isMajor(v, yMajor) ? 16 : 8;
      ctx.moveTo(a.left, py); ctx.lineTo(a.left + L, py);
      ctx.moveTo(a.right, py); ctx.lineTo(a.right - L, py);
    });
    ctx.stroke();
    ctx.lineWidth = 2;
    ctx.strokeRect(a.left, a.top, a.right - a.left, a.bottom - a.top);

    ctx.fillStyle = '#000'; ctx.textBaseline = 'alphabetic'; ctx.textAlign = 'left';
    const big = '42px ' + FONT, sm = '28px ' + FONT;
    xMajor.forEach((v, i) => {
      const px = xs.getPixelForValue(v);
      ctx.font = big; const w1 = ctx.measureText('10').width;
      ctx.font = sm; const w2 = ctx.measureText(xTickExp[i]).width;
      const s = px - (w1 + w2 + 2) / 2;
      ctx.font = big; ctx.fillText('10', s, 1398);
      ctx.font = sm; ctx.fillText(xTickExp[i], s + w1 + 2, 1371);
    });
    yMajor.forEach((v, i) => {
      const py = ys.getPixelForValue(v);
      ctx.font = big; const w1 = ctx.measureText('10').width;
      ctx.font = sm; const w2 = ctx.measureText(yTickExp[i]).width;
      const s = 164 - (w1 + w2 + 2);
      ctx.font = big; ctx.fillText('10', s, py + 16);
      ctx.font = sm; ctx.fillText(yTickExp[i], s + w1 + 2, py - 11);
    });
    const cx = (a.left + a.right) / 2;
    ctx.font = big; ctx.textAlign = 'center';
    ctx.fillText(chartTitle, cx, 11);
    ctx.fillText(xAxisTitle, cx, 1440);
    ctx.textAlign = 'left';
    ctx.save();
    ctx.translate(64, (a.top + a.bottom) / 2); ctx.rotate(-Math.PI / 2);
    ctx.font = big; const m1 = ctx.measureText(yAxisTitleMain).width; const m3 = ctx.measureText(')').width;
    ctx.font = sm; const m2 = ctx.measureText(yAxisTitleSup).width;
    const s0 = -(m1 + m2 + m3) / 2;
    ctx.font = big; ctx.fillText(yAxisTitleMain, s0, 0);
    ctx.font = sm; ctx.fillText(yAxisTitleSup, s0 + m1, -20);
    ctx.font = big; ctx.fillText(')', s0 + m1 + m2, 0);
    ctx.restore();
    ctx.save();
    ctx.translate(1810, a.bottom); ctx.rotate(-Math.PI / 2);
    ctx.font = '15px ' + FONT; const fw = ctx.measureText(footnote).width;
    ctx.scale(394 / fw, 1);
    ctx.fillText(footnote, 0, 0);
    ctx.restore();
    const L = { x: 201, y: 1060, w: 715, h: 263 };
    ctx.fillStyle = '#fff'; ctx.fillRect(L.x, L.y, L.w, L.h);
    ctx.strokeStyle = '#000'; ctx.lineWidth = 1.5; ctx.strokeRect(L.x, L.y, L.w, L.h);
    ctx.font = '43px ' + FONT;
    seriesLabels.forEach((lab, i) => {
      const yy = 1089 + i * 51.2;
      ctx.strokeStyle = seriesColors[i]; ctx.lineWidth = 5;
      ctx.beginPath(); ctx.moveTo(215, yy); ctx.lineTo(297, yy); ctx.stroke();
      ctx.fillStyle = '#000'; ctx.fillText(lab, 306, 1105 + i * 51.2);
    });
    ctx.restore();
  }
};

new Chart(document.getElementById('c'), {
  type: 'line',
  data: { datasets },
  options: {
    responsive: false, animation: false, devicePixelRatio: 1, events: [],
    layout: { autoPadding: false, padding: { left: 186, top: 41, right: 51, bottom: 114 } },
    plugins: { legend: { display: false }, tooltip: { enabled: false }, title: { display: false } },
    scales: {
      x: { type: 'logarithmic', min: 0.01, max: 1000, position: 'bottom',
        ticks: { display: false }, grid: { color: '#000', lineWidth: 1, drawTicks: false },
        border: { display: false, dash: [2, 10] },
        afterBuildTicks: ax => { ax.ticks = xGrid.map(v => ({ value: v })); } },
      y: { type: 'logarithmic', min: 1e-11, max: 1e-3, position: 'left',
        ticks: { display: false }, grid: { color: '#000', lineWidth: 1, drawTicks: false },
        border: { display: false, dash: [2, 10] },
        afterBuildTicks: ax => { ax.ticks = yGrid.map(v => ({ value: v })); } }
    }
  },
  plugins: [decor]
});
</script>
</body></html>
